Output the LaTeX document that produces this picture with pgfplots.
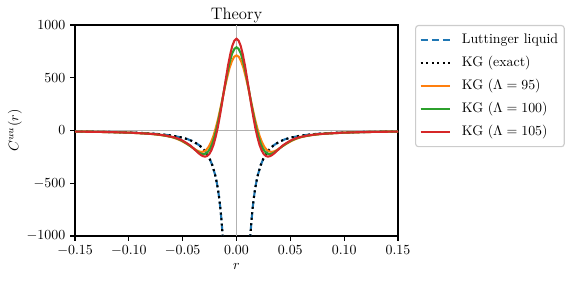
\documentclass[border=0pt]{standalone}
\usepackage{pgfplots}
\pgfplotsset{compat=1.18}
\usepackage{pgfplotstable}
\definecolor{tabblue}{RGB}{31,119,180}
\definecolor{taborange}{RGB}{255,127,14}
\definecolor{tabgreen}{RGB}{44,160,44}
\definecolor{tabred}{RGB}{214,39,40}

\pgfplotstableread{
r C
-0.1500 -9.95
-0.1350 -11.6
-0.1200 -13.9
-0.1000 -18.9
-0.0900 -22.7
-0.0800 -28.1
-0.0700 -35.9
-0.0600 -48.0
-0.0500 -68.2
-0.0450 -83.7
-0.0400 -105.3
-0.0350 -136.9
-0.0325 -158.4
-0.0300 -185.5
-0.0275 -220.4
-0.0250 -266.2
-0.0225 -328.1
-0.0200 -414.7
-0.0190 -459.3
-0.0180 -511.5
-0.0170 -573.1
-0.0160 -646.7
-0.0150 -735.5
-0.0140 -844.0
-0.0130 -978.0
-0.0125 -1056
0 nan
0.0125 -1056
0.0130 -978.0
0.0140 -844.0
0.0150 -735.5
0.0160 -646.7
0.0170 -573.1
0.0180 -511.5
0.0190 -459.3
0.0200 -414.7
0.0225 -328.1
0.0250 -266.2
0.0275 -220.4
0.0300 -185.5
0.0325 -158.4
0.0350 -136.9
0.0400 -105.3
0.0450 -83.7
0.0500 -68.2
0.0600 -48.0
0.0700 -35.9
0.0800 -28.1
0.0900 -22.7
0.1000 -18.9
0.1200 -13.9
0.1350 -11.6
0.1500 -9.95
}\exact

\pgfplotstableread{
r C
-0.1500 -10.2
-0.1292 -12.9
-0.1077 -17.8
-0.0861 -27.3
-0.0754 -36.2
-0.0646 -52.4
-0.0603 -62.6
-0.0560 -76.5
-0.0517 -95.4
-0.0474 -120.0
-0.0431 -146.2
-0.0409 -161.8
-0.0388 -176.8
-0.0366 -189.9
-0.0344 -199.2
-0.0323 -202.7
-0.0301 -198.1
-0.0280 -182.8
-0.0258 -154.8
-0.0237 -112.2
-0.0215 -54.2
-0.0194 19.0
-0.0172 105.8
-0.0151 203.1
-0.0129 306.4
-0.0108 409.8
-0.0086 507.0
-0.0065 591.3
-0.0043 656.5
-0.0022 697.9
0 712
0.0022 697.9
0.0043 656.5
0.0065 591.3
0.0086 507.0
0.0108 409.8
0.0129 306.4
0.0151 203.1
0.0172 105.8
0.0194 19.0
0.0215 -54.2
0.0237 -112.2
0.0258 -154.8
0.0280 -182.8
0.0301 -198.1
0.0323 -202.7
0.0344 -199.2
0.0366 -189.9
0.0388 -176.8
0.0409 -161.8
0.0431 -146.2
0.0474 -120.0
0.0517 -95.4
0.0560 -76.5
0.0603 -62.6
0.0646 -52.4
0.0754 -36.2
0.0861 -27.3
0.1077 -17.8
0.1292 -12.9
0.1500 -10.2
}\kgorange

\pgfplotstableread{
r C
-0.1500 -10.2
-0.1432 -11.0
-0.1227 -14.0
-0.1023 -19.3
-0.0818 -30.0
-0.0716 -39.9
-0.0614 -57.7
-0.0573 -69.1
-0.0532 -84.6
-0.0491 -105.4
-0.0450 -132.8
-0.0409 -162.0
-0.0389 -179.3
-0.0368 -196.0
-0.0348 -210.4
-0.0327 -220.7
-0.0307 -224.6
-0.0286 -219.5
-0.0266 -202.6
-0.0245 -171.6
-0.0225 -124.4
-0.0205 -60.1
-0.0184 21.1
-0.0164 117.3
-0.0143 225.1
-0.0123 339.5
-0.0102 454.1
-0.0082 561.8
-0.0061 655.2
-0.0041 727.5
-0.0020 773.3
0 789
0.0020 773.3
0.0041 727.5
0.0061 655.2
0.0082 561.8
0.0102 454.1
0.0123 339.5
0.0143 225.1
0.0164 117.3
0.0184 21.1
0.0205 -60.1
0.0225 -124.4
0.0245 -171.6
0.0266 -202.6
0.0286 -219.5
0.0307 -224.6
0.0327 -220.7
0.0348 -210.4
0.0368 -196.0
0.0389 -179.3
0.0409 -162.0
0.0450 -132.8
0.0491 -105.4
0.0532 -84.6
0.0573 -69.1
0.0614 -57.7
0.0716 -39.9
0.0818 -30.0
0.1023 -19.3
0.1227 -14.0
0.1432 -11.0
0.1500 -10.2
}\kggreen

\pgfplotstableread{
r C
-0.1500 -10.2
-0.1461 -10.6
-0.1169 -15.2
-0.0974 -21.0
-0.0779 -32.8
-0.0682 -43.6
-0.0584 -63.4
-0.0545 -75.9
-0.0506 -92.9
-0.0468 -116.0
-0.0429 -142.5
-0.0390 -178.7
-0.0370 -197.7
-0.0351 -216.1
-0.0331 -232.0
-0.0312 -243.4
-0.0292 -247.7
-0.0273 -242.0
-0.0253 -223.4
-0.0234 -189.2
-0.0214 -137.1
-0.0195 -66.3
-0.0175 23.2
-0.0156 129.3
-0.0136 248.2
-0.0117 374.4
-0.0097 500.7
-0.0078 619.5
-0.0058 722.5
-0.0039 802.2
-0.0019 852.7
0 870
0.0019 852.7
0.0039 802.2
0.0058 722.5
0.0078 619.5
0.0097 500.7
0.0117 374.4
0.0136 248.2
0.0156 129.3
0.0175 23.2
0.0195 -66.3
0.0214 -137.1
0.0234 -189.2
0.0253 -223.4
0.0273 -242.0
0.0292 -247.7
0.0312 -243.4
0.0331 -232.0
0.0351 -216.1
0.0370 -197.7
0.0390 -178.7
0.0429 -142.5
0.0468 -116.0
0.0506 -92.9
0.0545 -75.9
0.0584 -63.4
0.0682 -43.6
0.0779 -32.8
0.0974 -21.0
0.1169 -15.2
0.1461 -10.6
0.1500 -10.2
}\kgred

\begin{document}
\begin{tikzpicture}
\begin{axis}[
  scale only axis, width=232.56pt, height=151.92pt,
  at={(0,0)}, anchor=south west,
  xmin=-0.15, xmax=0.15, ymin=-1000, ymax=1000,
  xtick={-0.15,-0.1,-0.05,0,0.05,0.1,0.15},
  xticklabels={$-0.15$,$-0.10$,$-0.05$,$0.00$,$0.05$,$0.10$,$0.15$},
  ytick={-1000,-500,0,500,1000},
  yticklabels={$-1000$,$-500$,$0$,$500$,$1000$},
  tick align=outside, tick pos=left,
  major tick length=3.5pt,
  every tick/.style={black, line width=0.8pt},
  axis line style={line width=0.8pt},
  tick label style={font=\normalsize},
  xlabel={$r$}, ylabel={$C^{uu}(r)$},
  every axis x label/.style={at={(axis description cs:0.5,0)}, anchor=base, yshift=-23.8pt, font=\normalsize},
  every axis y label/.style={at={(axis description cs:0,0.5)}, rotate=90, anchor=center, yshift=43.2pt, font=\normalsize},
  title={Theory},
  every axis title/.style={at={(axis description cs:0.5,1)}, anchor=base, yshift=4.1pt, font=\large},
  unbounded coords=jump,
  legend style={at={(1.053,1)}, anchor=north west, draw=black!20, line width=0.8pt,
    rounded corners=2pt, fill=white, font=\normalsize, inner xsep=2.9pt, inner ysep=4.2pt,
    row sep=3.6pt, column sep=6.5pt,
    nodes={inner sep=1.44pt, text height=7.5pt, text depth=2.5pt}},
  legend cell align=left,
  legend image code/.code={\draw[#1] (0pt,0pt) -- (20.9pt,0pt);},
]
\addplot[forget plot, black!30, line width=0.8pt] coordinates {(0,-1000) (0,1000)};
\addplot[forget plot, black!30, line width=0.8pt] coordinates {(-0.15,0) (0.15,0)};
\addplot[tabblue, line width=1.5pt, dash pattern=on 5.55pt off 2.4pt] table[x=r,y=C] {\exact};
\addlegendentry{Luttinger liquid}
\addplot[black, line width=1.5pt, dash pattern=on 1.5pt off 2.475pt] table[x=r,y=C] {\exact};
\addlegendentry{KG (exact)}
\addplot[taborange, line width=1.5pt] table[x=r,y=C] {\kgorange};
\addlegendentry{KG ($\Lambda = 95$)}
\addplot[tabgreen, line width=1.5pt] table[x=r,y=C] {\kggreen};
\addlegendentry{KG ($\Lambda = 100$)}
\addplot[tabred, line width=1.5pt] table[x=r,y=C] {\kgred};
\addlegendentry{KG ($\Lambda = 105$)}
\end{axis}
\pgfresetboundingbox
\path[use as bounding box] (-54pt,-32.4pt) rectangle (365.04pt,169.92pt);
\end{tikzpicture}
\end{document}
